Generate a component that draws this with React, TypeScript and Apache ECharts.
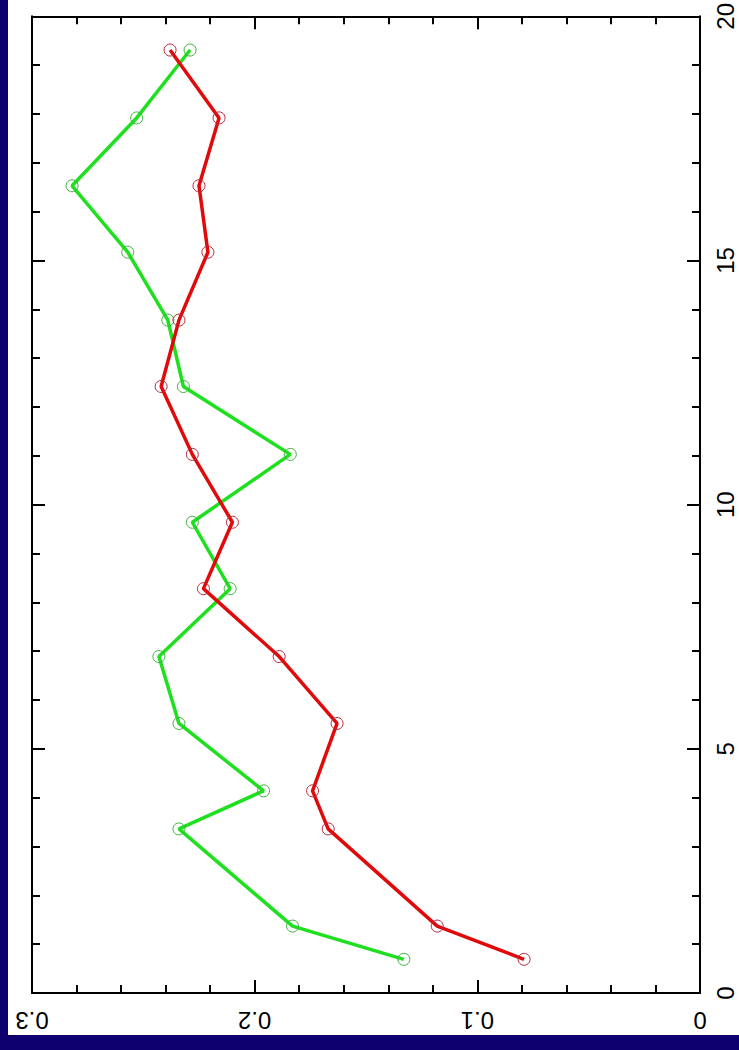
import React, { useEffect, useRef } from "react";
import * as echarts from "echarts";

// position along the (vertical) 0–20 axis
const positions = [0.69, 1.37, 3.36, 4.14, 5.52, 6.89, 8.28, 9.64, 11.03, 12.42, 13.78, 15.17, 16.53, 17.92, 19.31];
const greenValues = [0.133, 0.183, 0.234, 0.196, 0.234, 0.243, 0.211, 0.228, 0.184, 0.232, 0.239, 0.257, 0.282, 0.253, 0.229];
const redValues = [0.079, 0.118, 0.167, 0.174, 0.163, 0.189, 0.223, 0.21, 0.228, 0.242, 0.234, 0.221, 0.225, 0.216, 0.238];

const valueMin = 0;
const valueMax = 0.3;
const valueStep = 0.1;
const posMin = 0;
const posMax = 20;
const posStep = 5;

const fmtValue = (v: number) => (Math.abs(v) < 1e-9 ? "0" : v.toFixed(1));

export default function App() {
  const ref = useRef<HTMLDivElement>(null);
  useEffect(() => {
    if (!ref.current) return;
    const chart = echarts.init(ref.current, null, { renderer: "svg" });
    const axisLine = { show: true, onZero: false, lineStyle: { color: "#000", width: 2 } };
    const axisTick = { show: true, inside: true, length: 13, lineStyle: { color: "#000", width: 2 } };
    const minorTick = { show: true, splitNumber: 5, length: 8, lineStyle: { color: "#000", width: 2 } };
    const font = { fontFamily: "Liberation Sans", fontSize: 24, color: "#000" };
    const valueAxisBase = {
      type: "value",
      min: valueMin,
      max: valueMax,
      interval: valueStep,
      inverse: true,
      axisLine,
      axisTick,
      minorTick,
      splitLine: { show: false },
      minorSplitLine: { show: false },
    };
    const posAxisBase = {
      type: "value",
      min: posMin,
      max: posMax,
      interval: posStep,
      axisLine,
      axisTick,
      minorTick,
      splitLine: { show: false },
      minorSplitLine: { show: false },
    };
    const mk = (vals: number[]) => vals.map((v, i) => [v, positions[i]]);
    chart.setOption({
      animation: false,
      backgroundColor: "#fff",
      grid: { left: 24, right: 39, top: 12, bottom: 42, containLabel: false },
      xAxis: [
        {
          ...valueAxisBase,
          position: "bottom",
          axisLabel: { ...font, rotate: 180, margin: 15, formatter: fmtValue },
        },
        { ...valueAxisBase, position: "top", axisLabel: { show: false } },
      ],
      yAxis: [
        {
          ...posAxisBase,
          position: "right",
          axisLabel: { ...font, rotate: 90, margin: 13 },
        },
        { ...posAxisBase, position: "left", axisLabel: { show: false } },
      ],
      series: [
        {
          type: "line",
          name: "green",
          data: mk(greenValues),
          xAxisIndex: 0,
          yAxisIndex: 0,
          symbol: "circle",
          symbolSize: 12,
          lineStyle: { color: "#1ee01e", width: 3.5 },
          itemStyle: { color: "rgba(0,0,0,0)", borderColor: "#3cb43c", borderWidth: 1 },
        },
        {
          type: "line",
          name: "red",
          data: mk(redValues),
          xAxisIndex: 0,
          yAxisIndex: 0,
          symbol: "circle",
          symbolSize: 12,
          lineStyle: { color: "#e00a0a", width: 3.5 },
          itemStyle: { color: "rgba(0,0,0,0)", borderColor: "#b8283c", borderWidth: 1 },
        },
      ],
    });
    return () => chart.dispose();
  }, []);
  return (
    <div style={{ position: "fixed", left: 0, top: 0, width: 739, height: 1050, background: "#0e006e" }}>
      <div ref={ref} style={{ position: "absolute", left: 8, top: 0, width: 731, height: 1035, background: "#fff" }} />
    </div>
  );
}
